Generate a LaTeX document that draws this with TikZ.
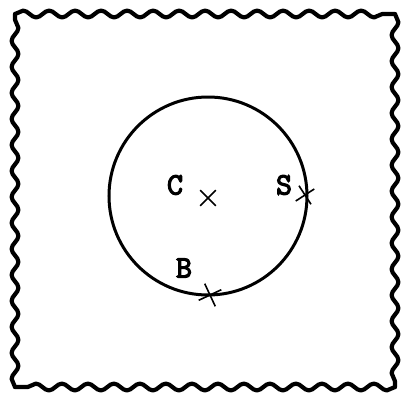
\documentclass[tikz,border=0pt]{standalone}
\usepackage{fontspec}
\newfontfamily\typefont{Latin Modern Mono}[FakeBold=4]
\usetikzlibrary{positioning,shapes.misc,decorations.pathmorphing}

\begin{document}
\begin{tikzpicture}[
  x=1bp,y=-1bp,
  lbl/.style={font=\fontsize{31}{33}\selectfont\typefont\bfseries,inner sep=0pt},
  xmark/.style={cross out,draw,line width=1.6bp,minimum size=14bp,inner sep=0pt},
  ring/.style={circle,draw,line width=3bp,minimum size=198bp,inner sep=0pt},
  wavy/.style={draw,line width=4.2bp,line cap=round,line join=round,decorate,
    decoration={snake,segment length=26bp,amplitude=3.4bp}},
]
\useasboundingbox (0,0) rectangle (406,398);

% ===== outer wavy frame =====
\coordinate (nw) at (15,14);
\coordinate (ne) at (395,14);
\coordinate (se) at (395,387);
\coordinate (sw) at (15,387);
\draw[wavy] (nw) -- (ne);
\draw[wavy] (ne) -- (se);
\draw[wavy] (se) -- (sw);
\draw[wavy] (sw) -- (nw);

% ===== circle and its points =====
\node[ring] (orbit) at (208,196) {};
\node[xmark] (cx) at (208,198) {};
\node[xmark,rotate=-12] (sx) at (305,195) {};
\node[xmark,rotate=-20,minimum size=16bp] (bx) at (210,295) {};

% ===== labels =====
\node[lbl] (c) at (175,185) {C};
\node[lbl] (s) at (284,185) {S};
\node[lbl] (b) at (184,268) {B};
\end{tikzpicture}
\end{document}
